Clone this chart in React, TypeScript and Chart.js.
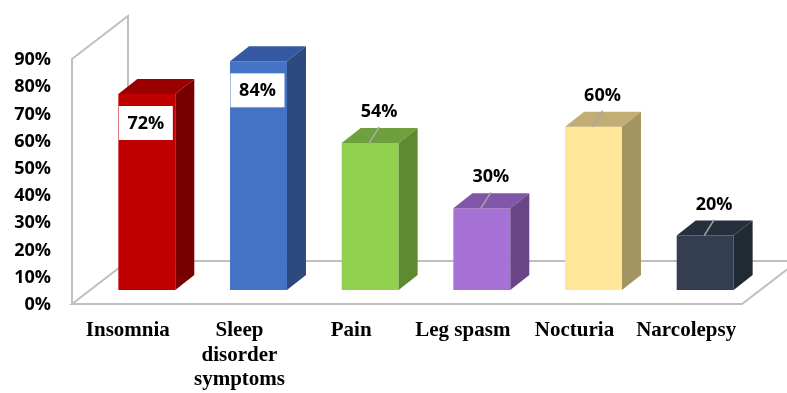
import React, { useEffect, useRef } from 'react';
import { Chart, registerables } from 'chart.js';

Chart.register(...registerables);

// Categories (multi-line where the label wraps)
const categories: string[][] = [
  ['Insomnia'],
  ['Sleep', 'disorder', 'symptoms'],
  ['Pain'],
  ['Leg spasm'],
  ['Nocturia'],
  ['Narcolepsy'],
];

// Share of patients reporting each symptom (%)
const values: number[] = [72, 84, 54, 30, 60, 20];

// Value axis range (%)
const axisMin = 0;
const axisMax = 90;
const axisStep = 10;

// Face colours for each column: front, top, right side
const frontColors = ['#C00000', '#4472C4', '#92D050', '#A672D6', '#FFE699', '#333F50'];
const topColors = ['#9A0000', '#3559A0', '#6FA03E', '#7F56A8', '#C2AE74', '#262F3B'];
const sideColors = ['#780000', '#2C4A7E', '#5E8A30', '#6A4688', '#A39462', '#212933'];

// Perspective of the box: floor depth and the column's slot inside it
const FLOOR_DX = 56;
const FLOOR_DY = -43;
const COL_OX = 19;
const COL_OY = -14;
const COL_DX = 19;
const COL_DY = -15;

const WALL_COLOR = '#BFBFBF';
const PCT_FONT = 'bold 18px "Open Sans", sans-serif';

const box3d = {
  id: 'box3d',
  beforeDatasetsDraw(chart: any) {
    const { ctx, chartArea } = chart;
    const { left, right, top, bottom } = chartArea;
    ctx.save();
    ctx.strokeStyle = WALL_COLOR;
    ctx.lineWidth = 2;
    ctx.lineJoin = 'miter';
    // floor
    ctx.beginPath();
    ctx.moveTo(left, bottom);
    ctx.lineTo(right, bottom);
    ctx.lineTo(right + FLOOR_DX, bottom + FLOOR_DY);
    ctx.lineTo(left + FLOOR_DX, bottom + FLOOR_DY);
    ctx.closePath();
    ctx.stroke();
    // left side wall
    ctx.beginPath();
    ctx.moveTo(left, bottom);
    ctx.lineTo(left, top);
    ctx.lineTo(left + FLOOR_DX, top + FLOOR_DY);
    ctx.lineTo(left + FLOOR_DX, bottom + FLOOR_DY);
    ctx.stroke();
    ctx.restore();
    // columns stand one third of the way into the floor
    ctx.save();
    ctx.translate(COL_OX, COL_OY);
  },
  afterDatasetsDraw(chart: any) {
    const { ctx } = chart;
    ctx.restore();
    const meta = chart.getDatasetMeta(0);
    meta.data.forEach((el: any, i: number) => {
      const { x, y, base, width } = el.getProps(['x', 'y', 'base', 'width'], true);
      const L = x - width / 2 + COL_OX;
      const R = x + width / 2 + COL_OX;
      const T = y + COL_OY;
      const B = base + COL_OY;
      ctx.save();
      // top face
      ctx.fillStyle = topColors[i];
      ctx.beginPath();
      ctx.moveTo(L, T);
      ctx.lineTo(R, T);
      ctx.lineTo(R + COL_DX, T + COL_DY);
      ctx.lineTo(L + COL_DX, T + COL_DY);
      ctx.closePath();
      ctx.fill();
      // right side face
      ctx.fillStyle = sideColors[i];
      ctx.beginPath();
      ctx.moveTo(R, T);
      ctx.lineTo(R + COL_DX, T + COL_DY);
      ctx.lineTo(R + COL_DX, B + COL_DY);
      ctx.lineTo(R, B);
      ctx.closePath();
      ctx.fill();
      ctx.restore();
    });

    // value labels
    const ds = chart.data.datasets[0];
    meta.data.forEach((el: any, i: number) => {
      const { x, y } = el.getProps(['x', 'y'], true);
      const cx = x + COL_OX;
      const T = y + COL_OY;
      const text = `${ds.data[i]}%`;
      ctx.save();
      ctx.font = PCT_FONT;
      ctx.textAlign = 'center';
      ctx.textBaseline = 'middle';
      if ((ds.data[i] as number) > 65) {
        // boxed label inside the column head
        const bx = cx - 1;
        const by = T + 29;
        ctx.fillStyle = '#FFFFFF';
        ctx.fillRect(bx - 27, by - 17, 54, 34);
        ctx.fillStyle = '#000000';
        ctx.fillText(text, bx, by + 1);
      } else {
        const lx = cx + 9;
        const ly = T - 32;
        ctx.strokeStyle = '#A6A6A6';
        ctx.lineWidth = 1.5;
        ctx.beginPath();
        ctx.moveTo(lx, ly + 16);
        ctx.lineTo(cx - 1, T);
        ctx.stroke();
        ctx.fillStyle = '#000000';
        ctx.fillText(text, lx, ly + 1);
      }
      ctx.restore();
    });
  },
};

export default function App() {
  const canvasRef = useRef<HTMLCanvasElement | null>(null);

  useEffect(() => {
    const canvas = canvasRef.current;
    if (!canvas) return;
    const chart = new Chart(canvas, {
      type: 'bar',
      data: {
        labels: categories,
        datasets: [
          {
            data: values,
            backgroundColor: frontColors,
            borderWidth: 0,
            barPercentage: 0.51,
            categoryPercentage: 1,
            clip: false,
          } as any,
        ],
      },
      options: {
        responsive: false,
        animation: false,
        devicePixelRatio: 1,
        layout: { padding: { left: 0, right: 45, top: 59, bottom: 0 } },
        plugins: {
          legend: { display: false },
          tooltip: { enabled: false },
          title: { display: false },
        },
        scales: {
          x: {
            offset: true,
            grid: { display: false, drawTicks: false },
            border: { display: false },
            ticks: {
              autoSkip: false,
              maxRotation: 0,
              minRotation: 0,
              padding: 15,
              color: '#000000',
              font: { family: '"Liberation Serif", "Times New Roman", serif', size: 21, weight: 'bold', lineHeight: 1.15 },
            },
            afterFit(scale: any) {
              scale.height = 89;
              scale.paddingLeft = 0;
              scale.paddingRight = 0;
            },
          },
          y: {
            min: axisMin,
            max: axisMax,
            grid: { display: false, drawTicks: false },
            border: { display: false },
            ticks: {
              stepSize: axisStep,
              padding: 21,
              labelOffset: 1,
              color: '#000000',
              font: { family: '"Open Sans", sans-serif', size: 18, weight: 'bold' },
              callback: (v: any) => `${v}%`,
            },
            afterFit(scale: any) {
              scale.width = 72;
              scale.paddingTop = 0;
              scale.paddingBottom = 0;
            },
          },
        },
      },
      plugins: [box3d],
    } as any);
    return () => chart.destroy();
  }, []);

  return (
    <div style={{ position: 'fixed', left: 0, top: 0, width: 787, height: 393, background: '#FFFFFF' }}>
      <canvas ref={canvasRef} width={787} height={393} style={{ display: 'block' }} />
    </div>
  );
}
